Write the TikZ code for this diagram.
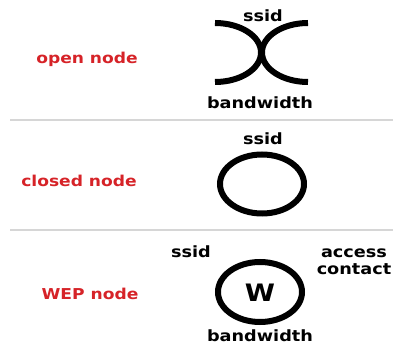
\documentclass[tikz,border=0pt]{standalone}
\usepackage{fontspec}
\usepackage{xcolor}
\newfontfamily\labelfont[FakeStretch=1.14]{DejaVu Sans}
\definecolor{nodered}{RGB}{214,35,40}
\definecolor{rulegray}{RGB}{214,214,214}

\begin{document}
\begin{tikzpicture}[x=1pt,y=1pt,
    kind/.style={text=nodered,font=\labelfont\bfseries\fontsize{15}{16}\selectfont},
    tag/.style={font=\labelfont\bfseries\fontsize{15.5}{16}\selectfont,inner sep=0pt},
    ring/.style={line width=6pt}]
\useasboundingbox (0,0) rectangle (393,345);

% separators
\draw[rulegray,line width=2pt](10,225)--(393,225);
\draw[rulegray,line width=2pt](10,115)--(393,115);

% open node
\node[kind] (open) at (87,286){open node};
\draw[ring](215,322) arc[start angle=90,end angle=-90,x radius=46,y radius=29.5];
\draw[ring](308,322) arc[start angle=90,end angle=270,x radius=46,y radius=29.5];
\node[tag] (openssid) at (263,329){ssid};
\node[tag] (openbw) at (260,242){bandwidth};

% closed node
\node[kind] (closed) at (79,164){closed node};
\draw[ring](262,161) ellipse[x radius=42,y radius=29.5];
\node[tag] (closedssid) at (263,206){ssid};

% WEP node
\node[kind] (wep) at (90,51){WEP node};
\draw[ring](260,53) ellipse[x radius=42,y radius=30];
\node[font=\labelfont\bfseries\fontsize{24}{24}\selectfont] (wsign) at (260,52){W};
\node[tag] (wepssid) at (191,93){ssid};
\node[tag] (access) at (354,92){access};
\node[tag] (contact) at (354,76){contact};
\node[tag] (wepbw) at (260,9){bandwidth};
\end{tikzpicture}
\end{document}
